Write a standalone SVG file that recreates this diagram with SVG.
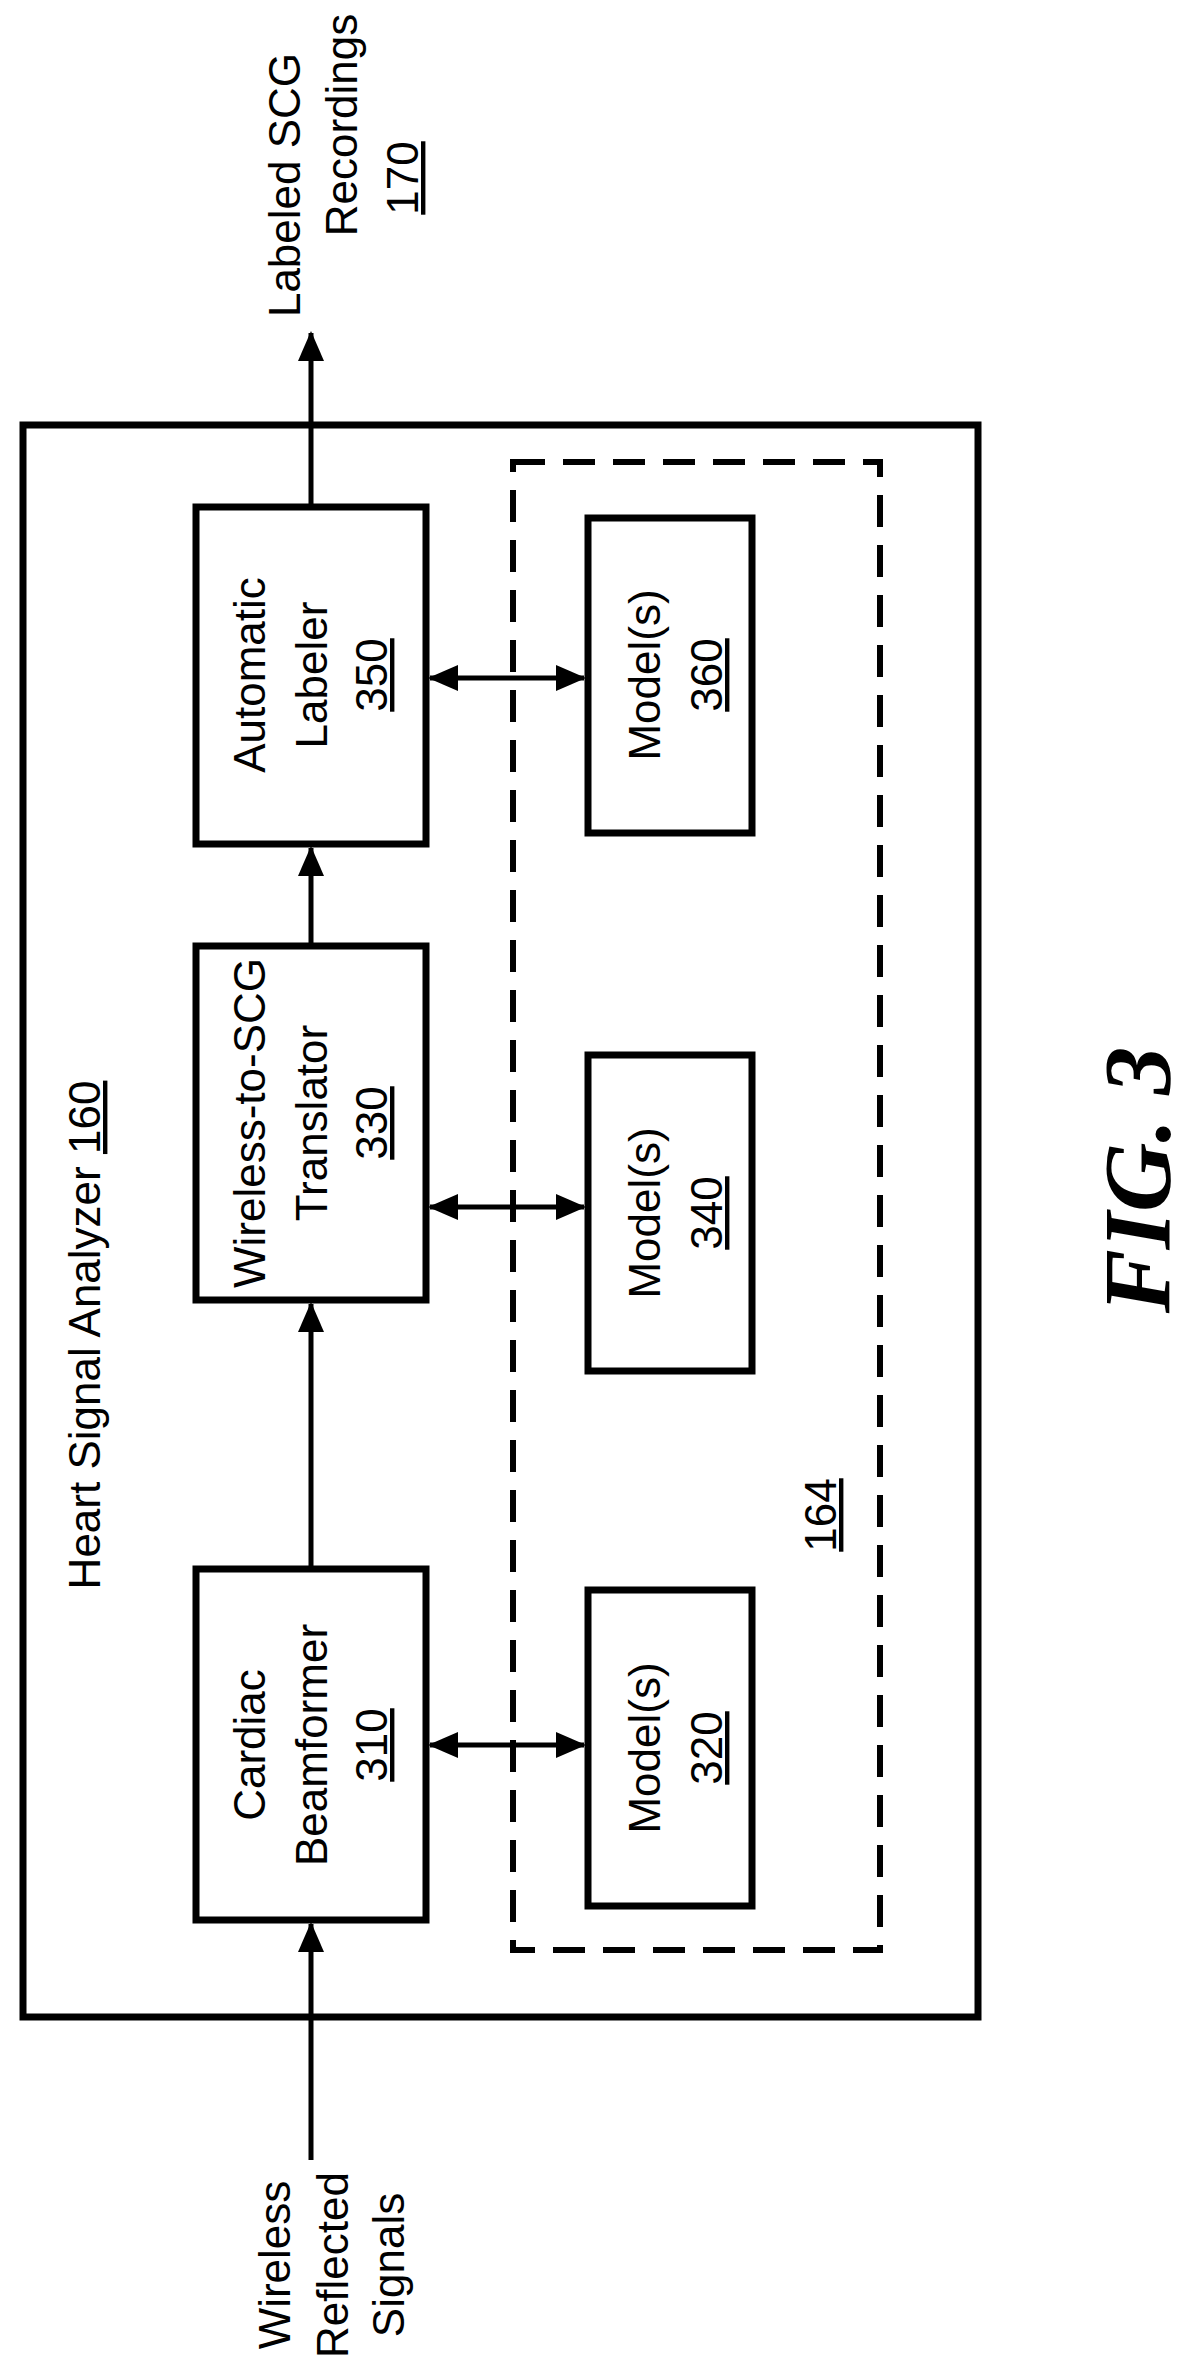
<svg xmlns="http://www.w3.org/2000/svg" width="1195" height="2368" viewBox="0 0 1195 2368">
<style>
.b{fill:#fff;stroke:#000;stroke-width:7}
.t{font-family:"Liberation Sans",Arial,sans-serif;font-size:44px;fill:#000;text-anchor:middle}
.u{text-decoration:underline}
.l{stroke:#000;stroke-width:5;fill:none}
</style>
<defs>
<marker id="a" markerWidth="30" markerHeight="26" refX="28" refY="13" orient="auto-start-reverse" markerUnits="userSpaceOnUse" viewBox="0 0 30 26"><path d="M0,0 L30,13 L0,26 Z" fill="#000"/></marker>
</defs>
<rect width="1195" height="2368" fill="#fff"/>
<g id="analyzer">
<rect x="23" y="425" width="955" height="1592" fill="none" stroke="#000" stroke-width="7"/>
<text class="t" transform="translate(100,1335) rotate(-90)"><tspan>Heart Signal Analyzer   </tspan><tspan class="u">160</tspan></text>
</g>
<g id="storage">
<rect x="513" y="462" width="367" height="1488" fill="none" stroke="#000" stroke-width="6" stroke-dasharray="32,18"/>
<text class="t u" transform="translate(836,1515) rotate(-90)">164</text>
</g>
<g id="n350">
<rect class="b" x="196" y="507" width="230" height="337"/>
<text class="t" transform="translate(265,675) rotate(-90)">Automatic</text>
<text class="t" transform="translate(327,675) rotate(-90)">Labeler</text>
<text class="t u" transform="translate(387,675) rotate(-90)">350</text>
</g>
<g id="n330">
<rect class="b" x="196" y="946" width="230" height="354"/>
<text class="t" transform="translate(265,1123) rotate(-90)">Wireless-to-SCG</text>
<text class="t" transform="translate(327,1123) rotate(-90)">Translator</text>
<text class="t u" transform="translate(387,1123) rotate(-90)">330</text>
</g>
<g id="n310">
<rect class="b" x="196" y="1569" width="230" height="351"/>
<text class="t" transform="translate(265,1745) rotate(-90)">Cardiac</text>
<text class="t" transform="translate(327,1745) rotate(-90)">Beamformer</text>
<text class="t u" transform="translate(387,1745) rotate(-90)">310</text>
</g>
<g id="n360">
<rect class="b" x="588" y="518" width="164" height="315"/>
<text class="t" transform="translate(660,675) rotate(-90)">Model(s)</text>
<text class="t u" transform="translate(722,675) rotate(-90)">360</text>
</g>
<g id="n340">
<rect class="b" x="588" y="1055" width="164" height="316"/>
<text class="t" transform="translate(660,1213) rotate(-90)">Model(s)</text>
<text class="t u" transform="translate(722,1213) rotate(-90)">340</text>
</g>
<g id="n320">
<rect class="b" x="588" y="1590" width="164" height="316"/>
<text class="t" transform="translate(660,1748) rotate(-90)">Model(s)</text>
<text class="t u" transform="translate(722,1748) rotate(-90)">320</text>
</g>
<g id="out">
<text class="t" transform="translate(300,185) rotate(-90)">Labeled SCG</text>
<text class="t" transform="translate(357,125) rotate(-90)">Recordings</text>
<text class="t u" transform="translate(418,178) rotate(-90)">170</text>
</g>
<g id="in">
<text class="t" transform="translate(290,2265) rotate(-90)">Wireless</text>
<text class="t" transform="translate(348,2265) rotate(-90)">Reflected</text>
<text class="t" transform="translate(404,2265) rotate(-90)">Signals</text>
</g>
<g id="connectors">
<line class="l" x1="311" y1="2160" x2="311" y2="1924" marker-end="url(#a)"/>
<line class="l" x1="311" y1="1566" x2="311" y2="1304" marker-end="url(#a)"/>
<line class="l" x1="311" y1="943" x2="311" y2="848" marker-end="url(#a)"/>
<line class="l" x1="311" y1="504" x2="311" y2="333" marker-end="url(#a)"/>
<line class="l" x1="430" y1="678" x2="584" y2="678" marker-start="url(#a)" marker-end="url(#a)"/>
<line class="l" x1="430" y1="1207" x2="584" y2="1207" marker-start="url(#a)" marker-end="url(#a)"/>
<line class="l" x1="430" y1="1745" x2="584" y2="1745" marker-start="url(#a)" marker-end="url(#a)"/>
</g>
<text transform="translate(1170,1180) rotate(-90)" text-anchor="middle" font-family="Liberation Serif,serif" font-weight="bold" font-style="italic" font-size="96">FIG. 3</text>
</svg>
